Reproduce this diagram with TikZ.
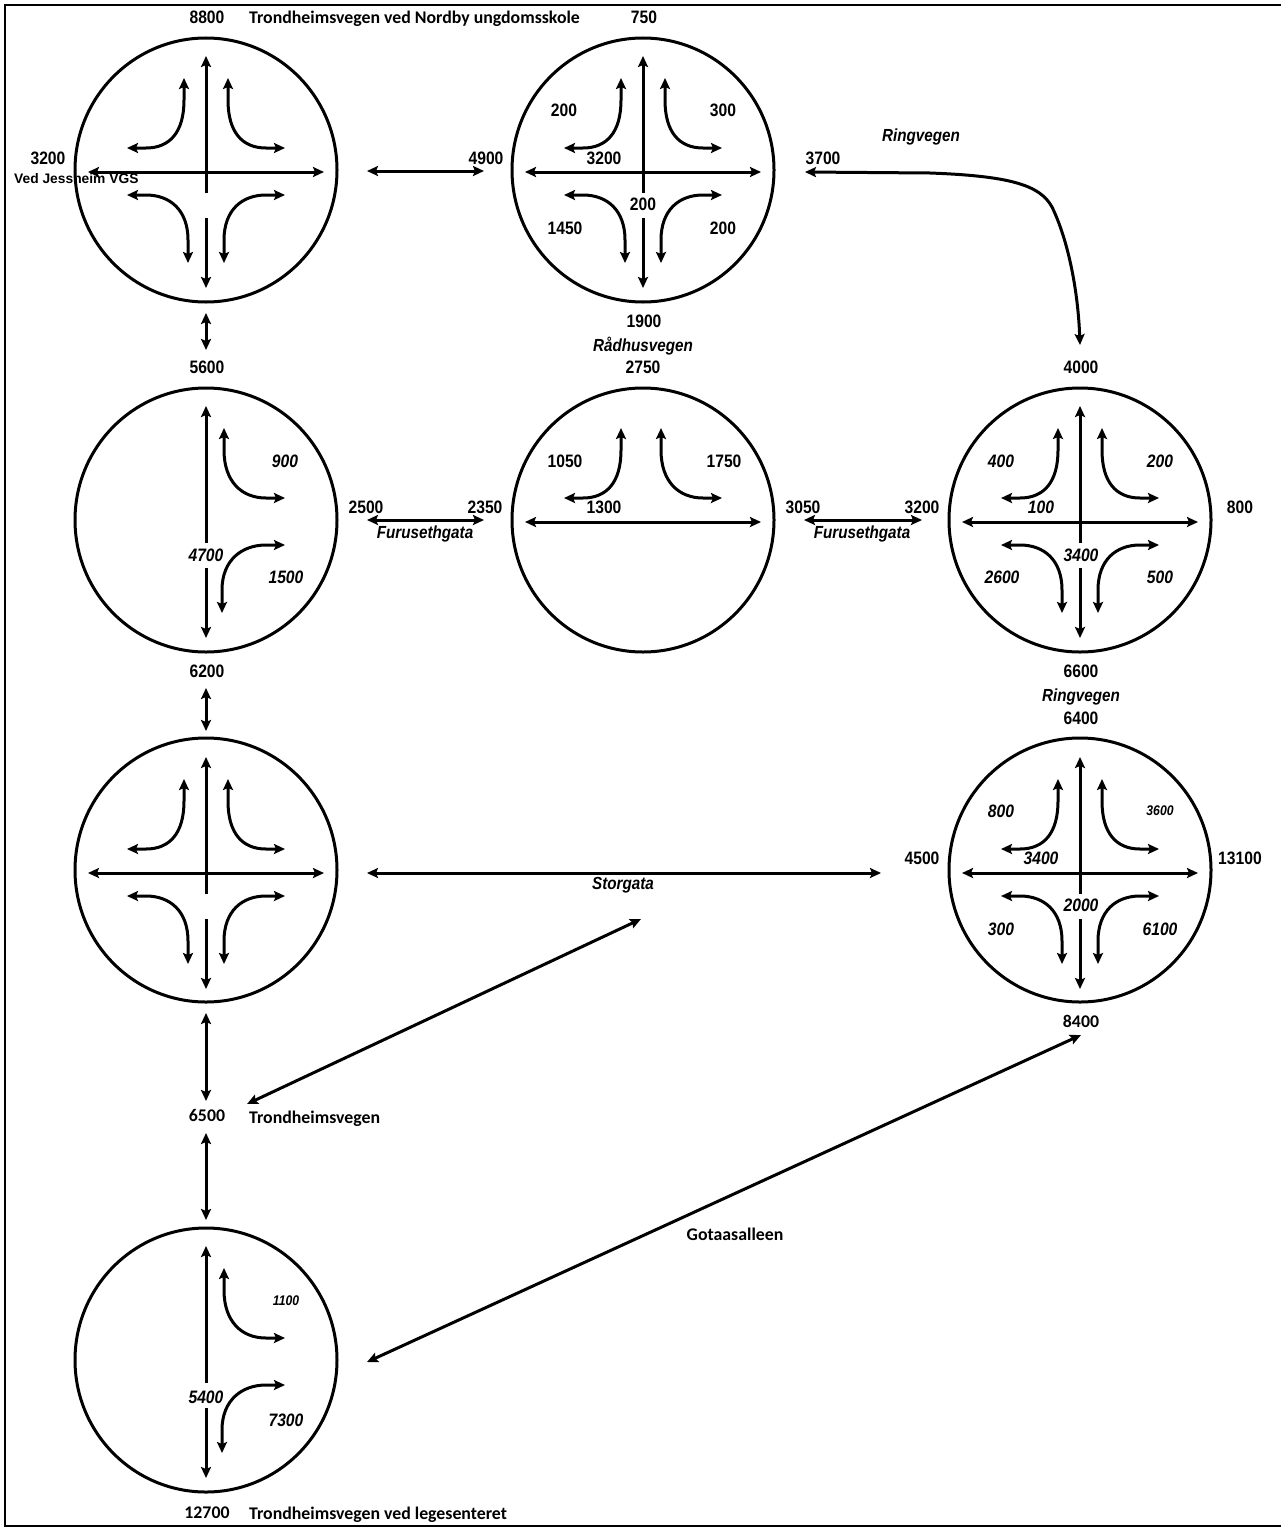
\documentclass[tikz,border=0pt]{standalone}
\usepackage{fontspec}
\setmainfont{Liberation Sans}
\newfontfamily\narrowfont{Liberation Sans}[FakeStretch=0.87]
\newfontfamily\calfont{Carlito}
\usetikzlibrary{arrows.meta,shapes.geometric}

\tikzset{
  road/.style={line width=3pt},
  hd/.tip={Stealth[length=11pt,width=10pt,inset=2pt]},
  both/.style={road,hd-hd},
  onetip/.style={road,-hd},
  rb/.style={ellipse,draw,line width=3pt,minimum width=262pt,minimum height=264pt,inner sep=0pt},
  num/.style={font=\narrowfont\bfseries\fontsize{18}{18}\selectfont,inner sep=0pt},
  inum/.style={font=\narrowfont\bfseries\itshape\fontsize{18}{18}\selectfont,inner sep=0pt},
  snum/.style={font=\narrowfont\bfseries\itshape\fontsize{14}{14}\selectfont,inner sep=0pt},
  street/.style={font=\narrowfont\bfseries\itshape\fontsize{17.5}{17.5}\selectfont,inner sep=0pt},
  cal/.style={font=\calfont\bfseries\fontsize{17.8}{17.8}\selectfont,inner sep=0pt},
  calw/.style={cal,anchor=west},
}

% full four-way set of movement arrows around a crossing point
\newcommand\crossarrows[1]{%
  \begin{scope}[shift={#1}]
    \draw[onetip] (0,21) -- (0,-116);
    \draw[onetip] (0,46) -- (0,116);
    \draw[both] (-118,0) -- (118,0);
    \draw[both] (-22,-94) -- (-22,-72) .. controls (-22,-40) and (-36,-24) .. (-60,-24) -- (-79,-24);
    \draw[both] (22,-94) -- (22,-72) .. controls (22,-40) and (36,-24) .. (60,-24) -- (79,-24);
    \draw[both] (-79,23) -- (-60,23) .. controls (-36,23) and (-18,38) .. (-18,68) -- (-18,91);
    \draw[both] (79,23) -- (60,23) .. controls (36,23) and (18,38) .. (18,68) -- (18,91);
  \end{scope}}

% T-junction with the side road to the right
\newcommand\teeright[1]{%
  \begin{scope}[shift={#1}]
    \draw[onetip] (0,21) -- (0,-116);
    \draw[onetip] (0,46) -- (0,116);
    \draw[both] (18,-94) -- (18,-72) .. controls (18,-40) and (36,-24) .. (60,-24) -- (79,-24);
    \draw[both] (79,23) -- (60,23) .. controls (36,23) and (16,38) .. (16,68) -- (16,91);
  \end{scope}}

% T-junction with the side road upwards
\newcommand\teeup[1]{%
  \begin{scope}[shift={#1}]
    \draw[both] (-118,0) -- (118,0);
    \draw[both] (-22,-94) -- (-22,-72) .. controls (-22,-40) and (-36,-24) .. (-60,-24) -- (-79,-24);
    \draw[both] (18,-94) -- (18,-72) .. controls (18,-40) and (36,-24) .. (60,-24) -- (79,-24);
  \end{scope}}

\begin{document}
\begin{tikzpicture}[x=1pt,y=-1pt]
\useasboundingbox (0,0) rectangle (1280,1528);
\fill[white] (0,0) rectangle (1280,1528);

% frame
\draw[line width=2.5pt] (1290,5) -- (5,5) -- (5,1526) -- (1290,1526);

% roundabouts / junctions
\node[rb] (jA) at (206,170) {};
\node[rb] (jB) at (643,170) {};
\node[rb] (jC) at (206,520) {};
\node[rb] (jD) at (643,520) {};
\node[rb] (jE) at (1080,520) {};
\node[rb] (jF) at (206,870) {};
\node[rb] (jG) at (1080,870) {};
\node[rb] (jH) at (206,1360) {};

\crossarrows{(206,172)}
\crossarrows{(643,172)}
\teeright{(206,522)}
\teeup{(643,522)}
\crossarrows{(1080,522)}
\crossarrows{(206,873)}
\crossarrows{(1080,873)}
\teeright{(206,1362)}

% connecting road ends
\coordinate (abL) at (367,171);  \coordinate (abR) at (484,171);
\coordinate (acT) at (206,313);  \coordinate (acB) at (206,350);
\coordinate (cdL) at (367,520);  \coordinate (cdR) at (484,520);
\coordinate (deL) at (804,520);  \coordinate (deR) at (922,520);
\coordinate (cfT) at (206,688);  \coordinate (cfB) at (206,731);
\coordinate (fgL) at (367,873);  \coordinate (fgR) at (881,873);
\coordinate (rgL) at (805,172);  \coordinate (rgB) at (1080,345);
\coordinate (stU) at (641,919);  \coordinate (stD) at (247,1104);
\coordinate (ftT) at (206,1013); \coordinate (ftB) at (206,1101);
\coordinate (thT) at (206,1133); \coordinate (thB) at (206,1220);
\coordinate (goU) at (1081,1035); \coordinate (goD) at (367,1362);

\draw[both] (abL) -- (abR);
\draw[both] (acT) -- (acB);
\draw[both] (cdL) -- (cdR);
\draw[both] (deL) -- (deR);
\draw[both] (cfT) -- (cfB);
\draw[both] (fgL) -- (fgR);
\draw[both] (rgL) -- (930,173) .. controls (1010,176) and (1040,185) .. (1052,207)
  .. controls (1068,240) and (1078,290) .. (rgB);
\draw[both] (stU) -- (stD);
\draw[both] (ftT) -- (ftB);
\draw[both] (thT) -- (thB);
\draw[both] (goU) -- (goD);

% ---- labels: top row
\node[num] (l8800) at (207,17) {8800};
\node[calw] (lNordby) at (249,19) {Trondheimsvegen ved Nordby ungdomsskole};
\node[num] (l750) at (644,17) {750};
\node[num] (l3200w) at (48,158) {3200};
\node[font=\bfseries\fontsize{13.8}{13.8}\selectfont,inner sep=0pt,anchor=west] (lVGS) at (14,179) {Ved Jessheim VGS};
\node[num] (l4900) at (486,158) {4900};
\node[num] (l3700) at (823,158) {3700};
\node[street] (lRing1) at (921,137) {Ringvegen};
\node[num] (b200a) at (564,110) {200};
\node[num] (b300) at (723,110) {300};
\node[num] (b3200) at (604,158) {3200};
\node[num] (b200b) at (643,204) {200};
\node[num] (b1450) at (565,228) {1450};
\node[num] (b200c) at (723,228) {200};
\node[num] (l1900) at (644,321) {1900};
\node[street] (lRad) at (643,346) {Rådhusvegen};

% ---- labels: second row
\node[num] (l5600) at (207,367) {5600};
\node[num] (l2750) at (643,367) {2750};
\node[num] (l4000) at (1081,367) {4000};
\node[inum] (c900) at (285,461) {900};
\node[inum] (c4700) at (206,555) {4700};
\node[inum] (c1500) at (286,577) {1500};
\node[num] (l2500) at (366,507) {2500};
\node[num] (l2350) at (485,507) {2350};
\node[street] (lFur1) at (425,534) {Furusethgata};
\node[num] (d1050) at (565,461) {1050};
\node[num] (d1750) at (724,461) {1750};
\node[num] (d1300) at (604,507) {1300};
\node[num] (l3050) at (803,507) {3050};
\node[num] (l3200e) at (922,507) {3200};
\node[street] (lFur2) at (862,534) {Furusethgata};
\node[inum] (e400) at (1001,461) {400};
\node[inum] (e200) at (1160,461) {200};
\node[inum] (e100) at (1041,507) {100};
\node[inum] (e3400) at (1081,555) {3400};
\node[inum] (e2600) at (1002,577) {2600};
\node[inum] (e500) at (1160,577) {500};
\node[num] (l800) at (1240,507) {800};
\node[num] (l6200) at (207,671) {6200};
\node[num] (l6600) at (1081,671) {6600};
\node[street] (lRing2) at (1081,697) {Ringvegen};

% ---- labels: third row
\node[num] (l6400) at (1081,718) {6400};
\node[inum] (g800) at (1001,811) {800};
\node[snum] (g3600) at (1160,811) {3600};
\node[inum] (g3400) at (1041,858) {3400};
\node[inum] (g2000) at (1081,905) {2000};
\node[inum] (g300) at (1001,929) {300};
\node[inum] (g6100) at (1160,929) {6100};
\node[num] (l4500) at (922,858) {4500};
\node[num] (l13100) at (1240,858) {13100};
\node[street] (lStor) at (623,885) {Storgata};
\node[cal] (l8400) at (1081,1021) {8400};
\node[cal] (l6500) at (207,1115) {6500};
\node[calw] (lTrond) at (249,1119) {Trondheimsvegen};
\node[cal] (lGota) at (735,1234) {Gotaasalleen};

% ---- labels: bottom junction
\node[snum] (h1100) at (286,1301) {1100};
\node[inum] (h5400) at (206,1397) {5400};
\node[inum] (h7300) at (286,1420) {7300};
\node[cal] (l12700) at (207,1513) {12700};
\node[calw] (lLege) at (249,1515) {Trondheimsvegen ved legesenteret};
\end{tikzpicture}
\end{document}
